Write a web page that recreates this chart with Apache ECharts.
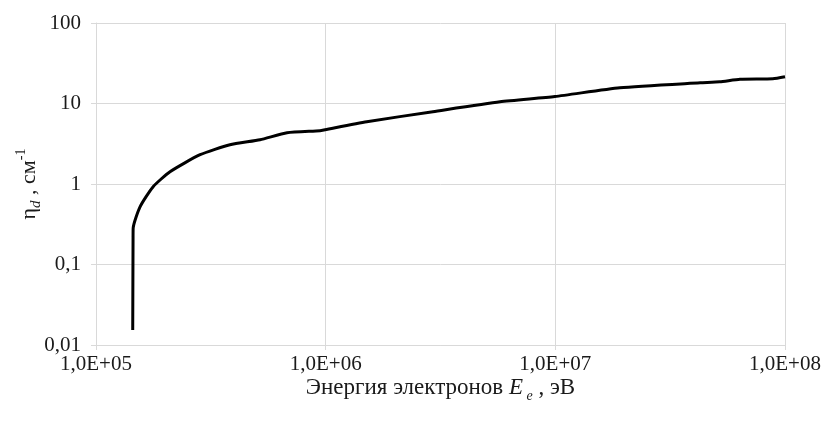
<!DOCTYPE html>
<html>
<head>
<meta charset="utf-8">
<script src="https://cdn.jsdelivr.net/npm/echarts@6/dist/echarts.min.js"></script>
<style>
  html, body { margin: 0; padding: 0; background: #fff; }
  #chart { width: 828px; height: 424px; }
</style>
</head>
<body>
<div id="chart"></div>
<script>
// Electron energy, eV
const energy = [
  1.445e5, 1.45e5, 1.452e5, 1.555e5, 1.77e5, 2.10e5, 2.84e5, 3.83e5,
  5.18e5, 6.79e5, 9.45e5, 9.94e5, 1.51e6, 2.93e6, 5.74e6, 9.95e6,
  1.91e7, 4.27e7, 5.2e7, 6.37e7, 8.85e7, 1.0e8
];
// eta_d, cm^-1
const eta = [
  0.0154, 0.22, 0.285, 0.52, 0.92, 1.42, 2.31, 3.07,
  3.55, 4.33, 4.59, 4.72, 5.94, 7.91, 10.5, 12.2,
  15.7, 18.1, 18.6, 20.0, 20.3, 21.5
];
const xTickLabels = { 5: '1,0E+05', 6: '1,0E+06', 7: '1,0E+07', 8: '1,0E+08' };
const yTickLabels = { '-2': '0,01', '-1': '0,1', '0': '1', '1': '10', '2': '100' };

const font = '"Liberation Serif", "Times New Roman", serif';
const gridColor = '#d9d9d9';
const textColor = '#1a1a1a';

const chart = echarts.init(document.getElementById('chart'), null, { renderer: 'canvas' });
chart.setOption({
  animation: false,
  backgroundColor: '#fff',
  grid: { left: 96, right: 43, top: 23, bottom: 79, containLabel: false, outerBoundsMode: 'none' },
  xAxis: {
    type: 'log', logBase: 10, min: 1e5, max: 1e8,
    name: '{t|Энергия электронов }{i|E}{s| e}{t| , эВ}',
    nameLocation: 'middle', nameGap: 28, nameMoveOverlap: false,
    nameTextStyle: {
      rich: {
        t: { fontFamily: font, fontSize: 23, color: textColor, lineHeight: 30, verticalAlign: 'middle' },
        i: { fontFamily: font, fontSize: 23, fontStyle: 'italic', color: textColor, lineHeight: 30, verticalAlign: 'middle' },
        s: { fontFamily: font, fontSize: 14, fontStyle: 'italic', color: textColor, lineHeight: 30, verticalAlign: 'bottom' }
      }
    },
    axisLine: { show: true, lineStyle: { color: gridColor, width: 1 } },
    axisTick: { show: true, length: 5, lineStyle: { color: gridColor } },
    splitLine: { show: true, lineStyle: { color: gridColor, width: 1 } },
    axisLabel: {
      fontFamily: font, fontSize: 21, color: textColor, margin: 9,
      formatter: v => xTickLabels[Math.round(Math.log10(v))] || ''
    }
  },
  yAxis: {
    type: 'log', logBase: 10, min: 0.01, max: 100,
    name: '{t|η}{s|d}{t| , см}{p|-1}',
    nameLocation: 'middle', nameGap: 52, nameRotate: 90, nameMoveOverlap: false,
    nameTextStyle: {
      rich: {
        t: { fontFamily: font, fontSize: 22, color: textColor, lineHeight: 30, verticalAlign: 'middle' },
        s: { fontFamily: font, fontSize: 15, fontStyle: 'italic', color: textColor, lineHeight: 30, verticalAlign: 'bottom' },
        p: { fontFamily: font, fontSize: 14, color: textColor, lineHeight: 30, verticalAlign: 'top' }
      }
    },
    axisLine: { show: true, lineStyle: { color: gridColor, width: 1 } },
    axisTick: { show: true, length: 5, lineStyle: { color: gridColor } },
    splitLine: { show: true, lineStyle: { color: gridColor, width: 1 } },
    axisLabel: {
      fontFamily: font, fontSize: 21, color: textColor, margin: 15,
      formatter: v => yTickLabels[String(Math.round(Math.log10(v)))] || ''
    }
  },
  series: [{
    type: 'line',
    data: energy.map((e, i) => [e, eta[i]]),
    showSymbol: false,
    smooth: 0.2,
    lineStyle: { color: '#000', width: 3 }
  }]
});
</script>
</body>
</html>
